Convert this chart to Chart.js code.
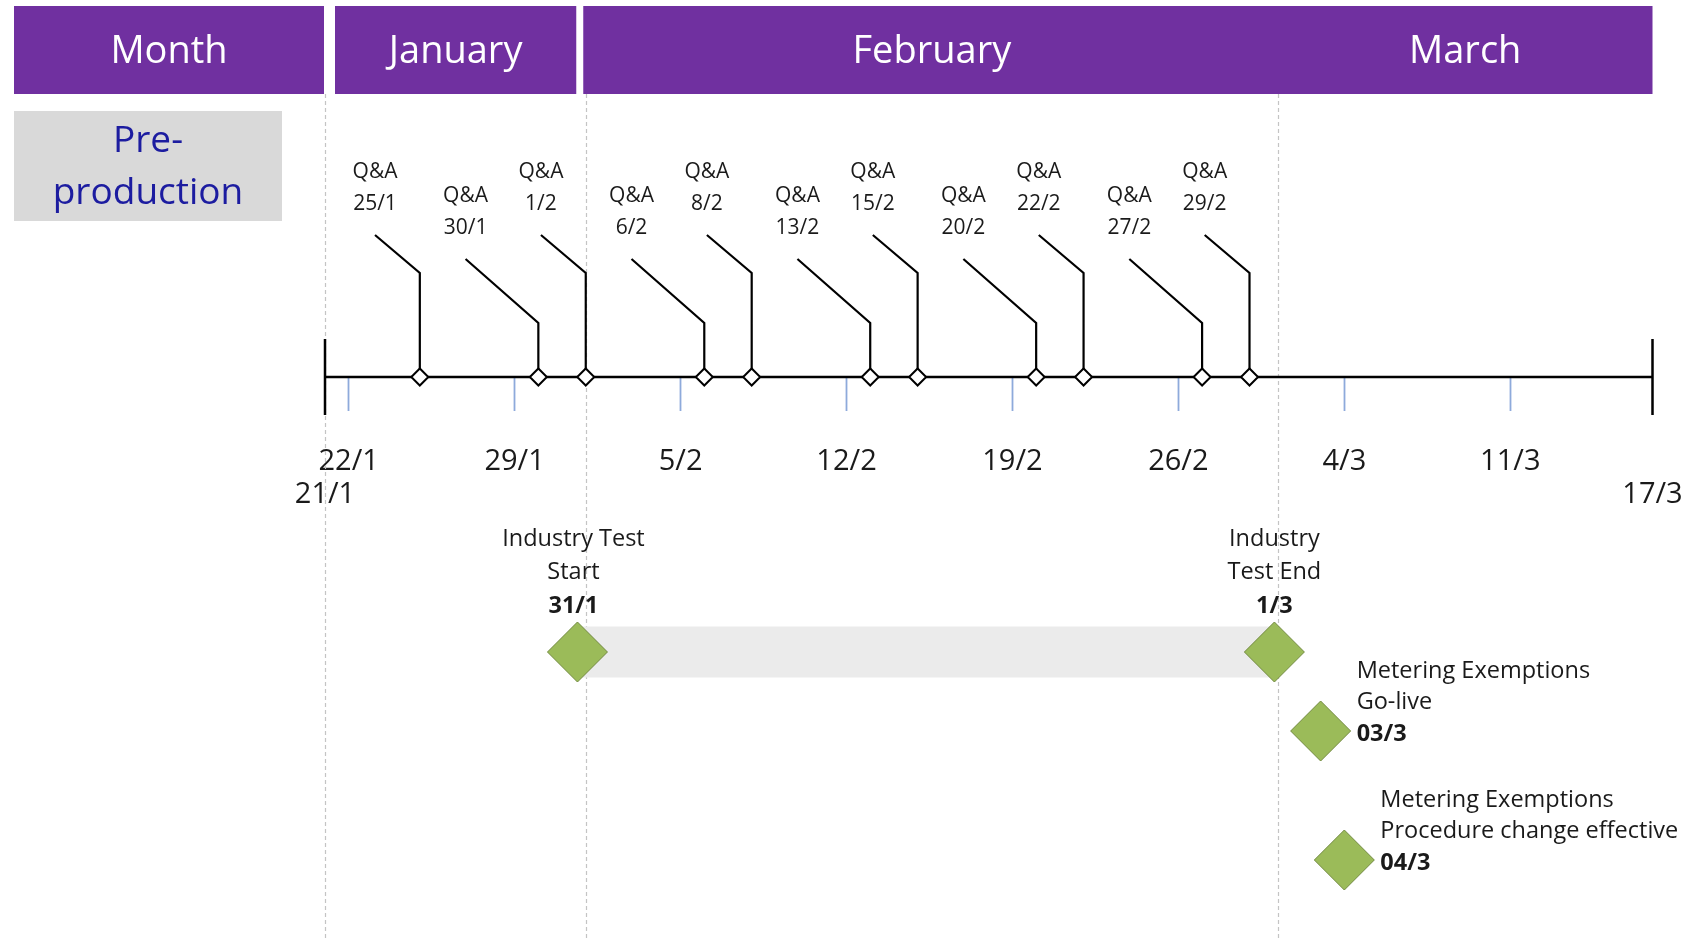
<!DOCTYPE html>
<html>
<head>
<meta charset="utf-8">
<title>Timeline</title>
<script src="https://cdn.jsdelivr.net/npm/chart.js@4.4.1/dist/chart.umd.min.js"></script>
<style>
  html, body { margin: 0; padding: 0; background: #fff; }
  #wrap { width: 1688px; height: 939px; }
</style>
</head>
<body>
<div id="wrap"><canvas id="timeline" width="1688" height="939"></canvas></div>
<script>
// days counted from 21/1 (2024, so Feb has 29 days)
const tickDays = [0, 1, 8, 15, 22, 29, 36, 43, 50, 56];
const tickLabels = [['', '21/1'], '22/1', '29/1', '5/2', '12/2', '19/2', '26/2', '4/3', '11/3', ['', '17/3']];

const qaDays = [4, 9, 11, 16, 18, 23, 25, 30, 32, 37, 39];
const qaLabels = ['25/1', '30/1', '1/2', '6/2', '8/2', '13/2', '15/2', '20/2', '22/2', '27/2', '29/2'];

const monthNames = ['January', 'February', 'March'];
const monthStart = [0, 11, 40.2];
const monthEnd = [11, 40.2, 56];

const msTitles = [['Industry Test', 'Start'], ['Industry', 'Test End'], ['Metering Exemptions', 'Go-live'], ['Metering Exemptions', 'Procedure change effective']];
const msDates = ['31/1', '1/3', '03/3', '04/3'];
const msDays = [10.65, 40.05, 42, 43];
const msLane = [0, 0, 1, 2];

// layout (y units are px above the timeline)
const laneY = [-275, -354, -483];
const FONT = "'Open Sans', 'DejaVu Sans', sans-serif";
const PURPLE = '#7030a0';
// where the timeline sits on the page
const AXIS_LEFT = 325, AXIS_RIGHT = 1652.5, AXIS_Y = 377, H = 939, W = 1688;

// Q&A callouts alternate between a tall and a short leader
const leaderHigh = { stem: 104, dx: 1.89, top: 142 };
const leaderLow = { stem: 54, dx: 3.07, top: 118 };
const leaderOf = i => (i % 2 === 0 ? leaderHigh : leaderLow);

const leaderPts = [];
qaDays.forEach((d, i) => {
  const l = leaderOf(i);
  leaderPts.push({ x: d, y: 0 }, { x: d, y: l.stem }, { x: d - l.dx, y: l.top }, { x: d, y: null });
});

const firstDay = tickDays[0], lastDay = tickDays[tickDays.length - 1];
const axisPts = [
  { x: firstDay, y: 38 }, { x: firstDay, y: -38 }, { x: 0, y: null },
  { x: firstDay, y: 0 }, { x: lastDay, y: 0 }, { x: 0, y: null },
  { x: lastDay, y: 38 }, { x: lastDay, y: -38 }
];

const msPts = msDays.map((d, i) => ({ x: d, y: laneY[msLane[i]] }));

const decor = {
  id: 'decor',
  beforeDatasetsDraw(chart) {
    const { ctx } = chart;
    const px = v => chart.scales.x.getPixelForValue(v);
    ctx.save();
    // month boundaries
    ctx.strokeStyle = '#c4c4c4';
    ctx.lineWidth = 1.2;
    ctx.setLineDash([4, 3]);
    monthStart.forEach(d => {
      const x = Math.round(px(d)) + 0.5;
      ctx.beginPath();
      ctx.moveTo(x, 94);
      ctx.lineTo(x, H);
      ctx.stroke();
    });
    ctx.setLineDash([]);

    // header bars
    const janL = px(monthStart[0]) + 10, janR = px(monthEnd[0]) - 9.5;
    ctx.fillStyle = PURPLE;
    ctx.fillRect(14, 6, px(firstDay) - 15, 88);
    ctx.fillRect(janL, 6, janR - janL, 88);
    ctx.fillRect(px(monthStart[1]) - 2.5, 6, px(monthEnd[2]) - px(monthStart[1]) + 2.5, 88);
    ctx.fillStyle = '#ffffff';
    ctx.font = '38px ' + FONT;
    ctx.textAlign = 'center';
    ctx.textBaseline = 'middle';
    ctx.fillText('Month', (14 + px(firstDay) - 1) / 2, 52);
    monthNames.forEach((m, i) => {
      const cx = i === 0 ? (janL + janR) / 2 : (px(monthStart[i]) + px(monthEnd[i])) / 2;
      ctx.fillText(m, cx, 52);
    });

    // phase box
    ctx.fillStyle = '#d9d9d9';
    ctx.fillRect(14, 111, 268, 110);
    ctx.fillStyle = '#1c1ca0';
    ctx.font = '37px ' + FONT;
    ctx.fillText('Pre-', 148, 141);
    ctx.fillText('production', 148, 193);
    ctx.restore();
  },
  afterDatasetsDraw(chart) {
    const { ctx } = chart;
    const px = v => chart.scales.x.getPixelForValue(v);
    const py = v => chart.scales.y.getPixelForValue(v);
    ctx.save();
    ctx.fillStyle = '#1a1a1a';
    ctx.textBaseline = 'middle';
    ctx.textAlign = 'center';
    ctx.font = '21px ' + FONT;
    qaDays.forEach((d, i) => {
      const l = leaderOf(i);
      const x = px(d - l.dx);
      const y = py(l.top);
      ctx.fillText('Q&A', x, y - 63);
      ctx.fillText(qaLabels[i], x, y - 31);
    });

    msDays.forEach((d, i) => {
      const x = px(d);
      const y = py(laneY[msLane[i]]);
      if (msLane[i] === 0) {
        const cx = i === 0 ? x - 4 : x;
        ctx.textAlign = 'center';
        ctx.font = '23.5px ' + FONT;
        ctx.fillText(msTitles[i][0], cx, y - 113);
        ctx.fillText(msTitles[i][1], cx, y - 80);
        ctx.font = 'bold 23.5px ' + FONT;
        ctx.fillText(msDates[i], cx, y - 46);
      } else {
        ctx.textAlign = 'left';
        ctx.font = '23.5px ' + FONT;
        ctx.fillText(msTitles[i][0], x + 36, y - 60);
        ctx.fillText(msTitles[i][1], x + 36, y - 28.5);
        ctx.font = 'bold 23.5px ' + FONT;
        ctx.fillText(msDates[i], x + 36, y + 3);
      }
    });
    ctx.restore();
  }
};

new Chart(document.getElementById('timeline'), {
  type: 'scatter',
  data: {
    datasets: [
      {
        label: 'milestones',
        data: msPts,
        pointStyle: 'rectRot',
        pointRadius: 30,
        backgroundColor: '#9bbb59',
        borderColor: '#71893f',
        borderWidth: 1,
        order: 0,
        clip: false
      },
      {
        label: 'qa',
        data: qaDays.map(d => ({ x: d, y: 0 })),
        pointStyle: 'rectRot',
        pointRadius: 8.5,
        backgroundColor: '#ffffff',
        borderColor: '#000000',
        borderWidth: 2,
        order: 1,
        clip: false
      },
      {
        label: 'axis',
        data: axisPts,
        showLine: true,
        pointRadius: 0,
        borderColor: '#000000',
        borderWidth: 2.5,
        spanGaps: false,
        order: 2,
        clip: false
      },
      {
        label: 'leaders',
        data: leaderPts,
        showLine: true,
        pointRadius: 0,
        borderColor: '#000000',
        borderWidth: 2.2,
        spanGaps: false,
        order: 3,
        clip: false
      },
      {
        label: 'test window',
        data: [msPts[0], msPts[1]],
        showLine: true,
        pointRadius: 0,
        borderColor: '#ebebeb',
        borderWidth: 51,
        borderCapStyle: 'butt',
        order: 4,
        clip: false
      }
    ]
  },
  options: {
    responsive: false,
    animation: false,
    events: [],
    layout: { autoPadding: false, padding: { left: AXIS_LEFT, right: W - AXIS_RIGHT, top: 0, bottom: 0 } },
    plugins: { legend: { display: false }, tooltip: { enabled: false } },
    scales: {
      x: {
        type: 'linear',
        min: firstDay,
        max: lastDay,
        position: { y: 0 },
        afterBuildTicks: s => { s.ticks = tickDays.map(v => ({ value: v })); },
        // labels may hang past the ends; don't let them shrink the plot
        afterFit: s => { s.paddingLeft = 0; s.paddingRight = 0; s.paddingTop = 0; s.paddingBottom = 0; },
        ticks: {
          callback: (v, i) => tickLabels[i],
          autoSkip: false,
          maxRotation: 0,
          minRotation: 0,
          padding: 34,
          color: '#1a1a1a',
          font: { family: FONT, size: 29, lineHeight: 1.15 }
        },
        grid: {
          drawOnChartArea: false,
          drawTicks: true,
          tickLength: 34,
          tickWidth: 1.8,
          tickColor: c => (c.tick && (c.tick.value === firstDay || c.tick.value === lastDay)) ? 'rgba(0,0,0,0)' : '#8eaadb'
        },
        border: { display: false }
      },
      y: {
        type: 'linear',
        min: AXIS_Y - H,
        max: AXIS_Y,
        display: false
      }
    }
  },
  plugins: [decor]
});
</script>
</body>
</html>
